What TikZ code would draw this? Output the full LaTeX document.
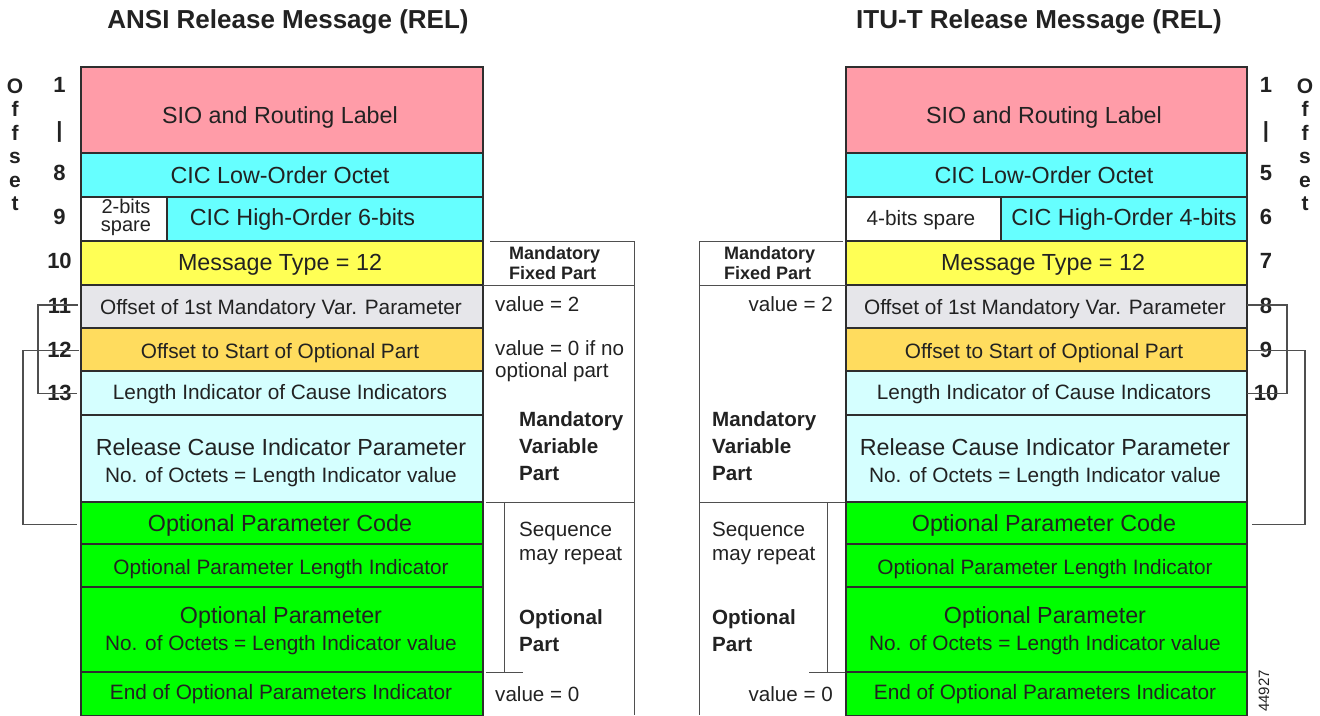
\documentclass[tikz,border=0pt]{standalone}
\usepackage{fontspec}
\setmainfont{Liberation Sans}
\definecolor{ink}{HTML}{222222}
\definecolor{edge}{HTML}{2E2E2E}
\definecolor{wire}{HTML}{4F4F4F}
\definecolor{pinkc}{HTML}{FF9CA8}
\definecolor{cyanc}{HTML}{66FFFF}
\definecolor{yellc}{HTML}{FFFF55}
\definecolor{grayc}{HTML}{E6E6EA}
\definecolor{goldc}{HTML}{FFDC5E}
\definecolor{palec}{HTML}{D5FFFF}
\definecolor{greenc}{HTML}{00FF00}
\begin{document}
\begin{tikzpicture}[x=1pt,y=-1pt,
  cell/.style={draw=edge, line width=1.1pt, inner sep=0pt, outer sep=0pt},
  big/.style={font=\fontsize{23.3}{28}\selectfont, inner sep=0pt, text height=16.7pt, text depth=0pt, text=ink},
  small/.style={font=\fontsize{20.8}{25}\selectfont, inner sep=0pt, text height=14.9pt, text depth=0pt, text=ink},
  numb/.style={font=\bfseries\fontsize{22}{24}\selectfont, inner sep=0pt, text height=15.8pt, text depth=0pt, text=ink},
  offl/.style={font=\bfseries\fontsize{21}{23.5}\selectfont, align=center, inner sep=0pt, anchor=base, text=ink},
  title/.style={font=\bfseries\fontsize{26}{30}\selectfont, inner sep=0pt, anchor=base, text=ink},
  head/.style={font=\bfseries\fontsize{18}{20.6}\selectfont, align=left, inner sep=0pt, anchor=base west, text=ink},
  sideb/.style={font=\bfseries\fontsize{20.6}{27}\selectfont, align=left, inner sep=0pt, anchor=base west, text=ink},
  side/.style={font=\fontsize{20.6}{22}\selectfont, align=left, inner sep=0pt, anchor=base west, text=ink},
  sider/.style={font=\fontsize{20.6}{22}\selectfont, align=right, inner sep=0pt, anchor=base east, text=ink},
  seq/.style={font=\fontsize{20.6}{23.5}\selectfont, align=left, inner sep=0pt, anchor=base west, text=ink},
  conn/.style={draw=wire, line width=1.1pt},
  part/.style={draw=wire, line width=1pt}]
\useasboundingbox (0,0) rectangle (1320,715);

% ---------- titles ----------
\node[title] (ttlA) at (288,28) {ANSI Release Message (REL)};
\node[title] (ttlI) at (1039,28) {ITU-T Release Message (REL)};

% ---------- ANSI message fields ----------
\node[cell, fill=pinkc,  minimum width=402pt, minimum height=86pt] (aSio) at (282,110) {};
\node[cell, fill=cyanc,  minimum width=402pt, minimum height=44pt] (aLow) at (282,175) {};
\node[cell, fill=white,  minimum width=86pt,  minimum height=44pt] (aSpr) at (124,219) {};
\node[cell, fill=cyanc,  minimum width=316pt, minimum height=44pt] (aHig) at (325,219) {};
\node[cell, fill=yellc,  minimum width=402pt, minimum height=44pt] (aTyp) at (282,263) {};
\node[cell, fill=grayc,  minimum width=402pt, minimum height=43pt] (aOf1) at (282,306.5) {};
\node[cell, fill=goldc,  minimum width=402pt, minimum height=43pt] (aOf2) at (282,349.5) {};
\node[cell, fill=palec,  minimum width=402pt, minimum height=44pt] (aLen) at (282,393) {};
\node[cell, fill=palec,  minimum width=402pt, minimum height=87pt] (aRel) at (282,458.5) {};
\node[cell, fill=greenc, minimum width=402pt, minimum height=42pt] (aOpc) at (282,523) {};
\node[cell, fill=greenc, minimum width=402pt, minimum height=43pt] (aOpl) at (282,565.5) {};
\node[cell, fill=greenc, minimum width=402pt, minimum height=85pt] (aOpp) at (282,629.5) {};
\node[cell, fill=greenc, minimum width=402pt, minimum height=44pt] (aEnd) at (282,694) {};

\node[big]   (aSioT) at (280,115.5) {SIO and Routing Label};
\node[big]   (aLowT) at (280,175.5) {CIC Low-Order Octet};
\node[font=\fontsize{20}{18.5}\selectfont, align=center, inner sep=0pt, anchor=base, text=ink] (aSprT) at (126,231.8) {2-bits\\spare};
\node[big]   (aHigT) at (302.5,217.5) {CIC High-Order 6-bits};
\node[big]   (aTypT) at (280,262.5) {Message Type = 12};
\node[small] (aOf1T) at (281,306.7) {Offset of 1st Mandatory Var. Parameter};
\node[small] (aOf2T) at (280,350.8) {Offset to Start of Optional Part};
\node[small] (aLenT) at (280,391.8) {Length Indicator of Cause Indicators};
\node[big]   (aRelT) at (281,447) {Release Cause Indicator Parameter};
\node[small] (aRelS) at (281,474.7) {No. of Octets = Length Indicator value};
\node[big]   (aOpcT) at (280,523.3) {Optional Parameter Code};
\node[small] (aOplT) at (281,566.7) {Optional Parameter Length Indicator};
\node[big]   (aOppT) at (281,615) {Optional Parameter};
\node[small] (aOppS) at (281,643) {No. of Octets = Length Indicator value};
\node[small] (aEndT) at (281,692) {End of Optional Parameters Indicator};

% ---------- ITU-T message fields ----------
\node[cell, fill=pinkc,  minimum width=401pt, minimum height=86pt] (iSio) at (1046.5,110) {};
\node[cell, fill=cyanc,  minimum width=401pt, minimum height=44pt] (iLow) at (1046.5,175) {};
\node[cell, fill=white,  minimum width=155pt, minimum height=44pt] (iSpr) at (923.5,219) {};
\node[cell, fill=cyanc,  minimum width=246pt, minimum height=44pt] (iHig) at (1124,219) {};
\node[cell, fill=yellc,  minimum width=401pt, minimum height=44pt] (iTyp) at (1046.5,263) {};
\node[cell, fill=grayc,  minimum width=401pt, minimum height=43pt] (iOf1) at (1046.5,306.5) {};
\node[cell, fill=goldc,  minimum width=401pt, minimum height=43pt] (iOf2) at (1046.5,349.5) {};
\node[cell, fill=palec,  minimum width=401pt, minimum height=44pt] (iLen) at (1046.5,393) {};
\node[cell, fill=palec,  minimum width=401pt, minimum height=87pt] (iRel) at (1046.5,458.5) {};
\node[cell, fill=greenc, minimum width=401pt, minimum height=42pt] (iOpc) at (1046.5,523) {};
\node[cell, fill=greenc, minimum width=401pt, minimum height=43pt] (iOpl) at (1046.5,565.5) {};
\node[cell, fill=greenc, minimum width=401pt, minimum height=85pt] (iOpp) at (1046.5,629.5) {};
\node[cell, fill=greenc, minimum width=401pt, minimum height=44pt] (iEnd) at (1046.5,694) {};

\node[big]   (iSioT) at (1044,115.5) {SIO and Routing Label};
\node[big]   (iLowT) at (1044,175.5) {CIC Low-Order Octet};
\node[small] (iSprT) at (921,218.3) {4-bits spare};
\node[big]   (iHigT) at (1124,217.5) {CIC High-Order 4-bits};
\node[big]   (iTypT) at (1043,262.5) {Message Type = 12};
\node[small] (iOf1T) at (1045,306.7) {Offset of 1st Mandatory Var. Parameter};
\node[small] (iOf2T) at (1044,350.8) {Offset to Start of Optional Part};
\node[small] (iLenT) at (1044,391.8) {Length Indicator of Cause Indicators};
\node[big]   (iRelT) at (1045,447) {Release Cause Indicator Parameter};
\node[small] (iRelS) at (1045,474.7) {No. of Octets = Length Indicator value};
\node[big]   (iOpcT) at (1044,523.3) {Optional Parameter Code};
\node[small] (iOplT) at (1045,566.7) {Optional Parameter Length Indicator};
\node[big]   (iOppT) at (1045,615) {Optional Parameter};
\node[small] (iOppS) at (1045,643) {No. of Octets = Length Indicator value};
\node[small] (iEndT) at (1045,692) {End of Optional Parameters Indicator};

% ---------- offset labels (anchored at the last line) ----------
\node[offl] (aWord) at (15,210.5) {O\\f\\f\\s\\e\\t};
\node[offl] (iWord) at (1305,210.5) {O\\f\\f\\s\\e\\t};

\node[numb] (a1)  at (59.5,85) {1};
\node[numb] (aB)  at (59.5,130) {|};
\node[numb] (a8)  at (59.5,173) {8};
\node[numb] (a9)  at (59.5,216.5) {9};
\node[numb] (a10) at (59.5,261) {10};
\node[numb] (a11) at (59.5,305.5) {11};
\node[numb] (a12) at (59.5,349.7) {12};
\node[numb] (a13) at (59.5,393) {13};

\node[numb] (i1)  at (1266,85) {1};
\node[numb] (iB)  at (1266,130) {|};
\node[numb] (i5)  at (1266,173) {5};
\node[numb] (i6)  at (1266,216.5) {6};
\node[numb] (i7)  at (1266,261) {7};
\node[numb] (i8)  at (1266,305.5) {8};
\node[numb] (i9)  at (1266,349.7) {9};
\node[numb] (i10) at (1266,393) {10};

% ---------- offset pointers ----------
\coordinate (aP11) at (77.5,305);
\coordinate (aP13) at (77,393.5);
\coordinate (aP12) at (79,350.7);
\coordinate (aPop) at (77,524.3);
\coordinate (aK1)  at (38,305);
\coordinate (aK2)  at (23,350.7);
\draw[conn] (aP11) -- (aK1) |- (aP13);
\draw[conn] (aP12) -- (aK2) |- (aPop);

\coordinate (iP8)  at (1247,305);
\coordinate (iP10) at (1247,393.5);
\coordinate (iP9)  at (1248,350.7);
\coordinate (iPop) at (1251.5,524.3);
\coordinate (iK1)  at (1287,305);
\coordinate (iK2)  at (1305,350.7);
\draw[conn] (iP8) -- (iK1) |- (iP10);
\draw[conn] (iP9) -- (iK2) |- (iPop);

% ---------- ANSI part brackets ----------
\draw[part] (490,241) -- (634,241) -- (634,715);
\draw[part] (483,285) -- (634,285);
\draw[part] (486,502) -- (635,502);
\draw[part] (504,502) -- (504,672);
\draw[part] (486,672) -- (523,672);

\node[head]  (aFix) at (509,279.6) {Mandatory\\Fixed Part};
\node[side]  (aV2)  at (495,311.5) {value = 2};
\node[side]  (aV0)  at (495,377) {value = 0 if no\\optional part};
\node[sideb] (aMvp) at (519,480.7) {Mandatory\\Variable\\Part};
\node[seq]   (aSeq) at (519,560) {Sequence\\may repeat};
\node[sideb] (aOpt) at (519,651.7) {Optional\\Part};
\node[side]  (aVz)  at (495,701.5) {value = 0};

% ---------- ITU-T part brackets ----------
\draw[part] (843,241) -- (699,241) -- (699,715);
\draw[part] (699,285) -- (846,285);
\draw[part] (699,502) -- (845,502);
\draw[part] (827.7,502) -- (827.7,672);
\draw[part] (809,672) -- (845,672);

\node[head]  (iFix) at (724,279.6) {Mandatory\\Fixed Part};
\node[sider] (iV2)  at (833,311.5) {value = 2};
\node[sideb] (iMvp) at (712,480.7) {Mandatory\\Variable\\Part};
\node[seq]   (iSeq) at (712,560) {Sequence\\may repeat};
\node[sideb] (iOpt) at (712,651.7) {Optional\\Part};
\node[sider] (iVz)  at (833,701.5) {value = 0};

% ---------- figure number ----------
\node[font=\fontsize{15}{17}\selectfont, rotate=90, inner sep=0pt, text=ink] (fig) at (1264,691) {44927};
\end{tikzpicture}
\end{document}
